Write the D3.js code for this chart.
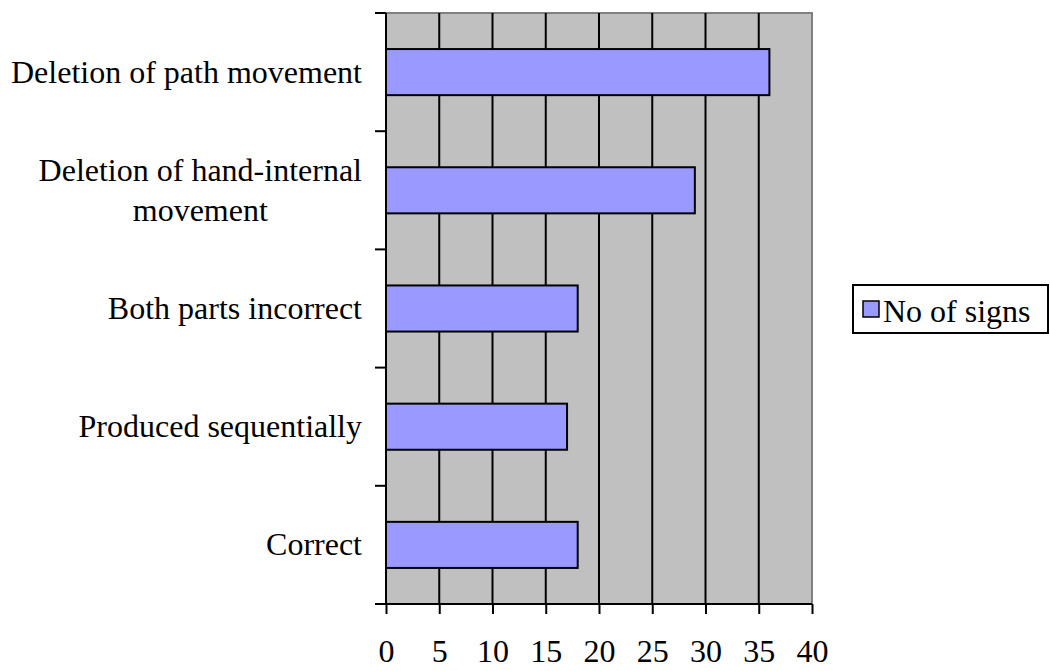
<!DOCTYPE html>
<html>
<head>
<meta charset="utf-8">
<script src="https://cdn.jsdelivr.net/npm/d3@7"></script>
</head>
<body style="margin:0">
<svg id="chart" width="1050" height="671"></svg>
<script>
// categories top to bottom, "\n" = line break in the label
var categories = ["Deletion of path movement", "Deletion of hand-internal\nmovement",
	"Both parts incorrect", "Produced sequentially", "Correct"];
var signs = [36, 29, 18, 17, 18];
var xTicks = [0, 5, 10, 15, 20, 25, 30, 35, 40];
var seriesName = "No of signs";

var svg = d3.select("#chart");
var plotL = 386, plotR = 812, plotT = 13, plotB = 604;
var fontSize = 32;
var fontFam = "Liberation Serif";

var x = d3.scaleLinear().domain([0, 40]).range([plotL, plotR]);
var y = d3.scaleBand()
	.domain(categories)
	.range([plotT, plotB])
	.paddingInner(0.61)
	.paddingOuter(0.305);

function label(sel) {
	return sel.attr("font-family", fontFam)
		.style("font-family", fontFam, "important")
		.attr("font-size", fontSize)
		.attr("fill", "#000");
}

// plot area
svg.append("rect")
	.attr("x", plotL).attr("y", plotT)
	.attr("width", plotR - plotL).attr("height", plotB - plotT)
	.attr("fill", "#c0c0c0");
svg.append("path")
	.attr("d", "M" + plotL + "," + plotT + "H" + plotR + "V" + plotB)
	.attr("fill", "none").attr("stroke", "#808080").attr("stroke-width", 2);

// vertical grid
svg.selectAll(".grid")
	.data(xTicks.filter(function(d) { return d > 0 && d < 40; }))
	.enter().append("line")
	.attr("class", "grid")
	.attr("x1", function(d) { return x(d); }).attr("x2", function(d) { return x(d); })
	.attr("y1", plotT).attr("y2", plotB)
	.attr("stroke", "#000").attr("stroke-width", 2);

// bars
svg.selectAll(".bar")
	.data(categories)
	.enter().append("rect")
	.attr("class", "bar")
	.attr("x", x(0))
	.attr("y", function(d) { return y(d); })
	.attr("width", function(d, i) { return x(signs[i]) - x(0); })
	.attr("height", y.bandwidth())
	.attr("fill", "#9999ff")
	.attr("stroke", "#000").attr("stroke-width", 2);

// y axis line + ticks at band edges
svg.append("line")
	.attr("x1", plotL).attr("x2", plotL).attr("y1", plotT).attr("y2", plotB)
	.attr("stroke", "#000").attr("stroke-width", 2);
var edges = d3.range(categories.length + 1).map(function(i) { return plotT + i * y.step(); });
svg.selectAll(".ytick")
	.data(edges)
	.enter().append("line")
	.attr("class", "ytick")
	.attr("x1", plotL - 11).attr("x2", plotL)
	.attr("y1", function(d) { return d; }).attr("y2", function(d) { return d; })
	.attr("stroke", "#000").attr("stroke-width", 2);

// x axis
var xAxis = svg.append("g")
	.attr("transform", "translate(0," + plotB + ")")
	.call(d3.axisBottom(x).tickValues(xTicks).tickSize(10).tickSizeOuter(0));
xAxis.attr("font-family", fontFam).attr("font-size", fontSize);
xAxis.select(".domain").attr("stroke-width", 2).attr("d", "M" + (plotL - 11) + ",0H" + plotR);
xAxis.selectAll(".tick line").attr("stroke-width", 2);
xAxis.selectAll(".tick text")
	.call(label)
	.attr("y", 58)
	.attr("dy", null);

// category labels (multi-line block right-aligned, lines centred)
categories.forEach(function(c) {
	var lines = c.split("\n");
	var cy = y(c) + y.bandwidth() / 2;
	var lineH = 40;
	var texts = lines.map(function(l, i) {
		return svg.append("text")
			.attr("y", cy + (i - (lines.length - 1) / 2) * lineH + 10.5)
			.call(label)
			.text(l);
	});
	var w = d3.max(texts, function(t) { return t.node().getComputedTextLength(); });
	texts.forEach(function(t) {
		t.attr("x", 362 - w / 2).attr("text-anchor", "middle");
	});
});

// legend
svg.append("rect")
	.attr("x", 853).attr("y", 285).attr("width", 195).attr("height", 48)
	.attr("fill", "#fff").attr("stroke", "#000").attr("stroke-width", 2);
svg.append("rect")
	.attr("x", 863).attr("y", 301).attr("width", 16).attr("height", 16)
	.attr("fill", "#9999ff").attr("stroke", "#000").attr("stroke-width", 1.5);
svg.append("text")
	.attr("x", 883).attr("y", 322)
	.call(label)
	.text(seriesName);
</script>
</body>
</html>
